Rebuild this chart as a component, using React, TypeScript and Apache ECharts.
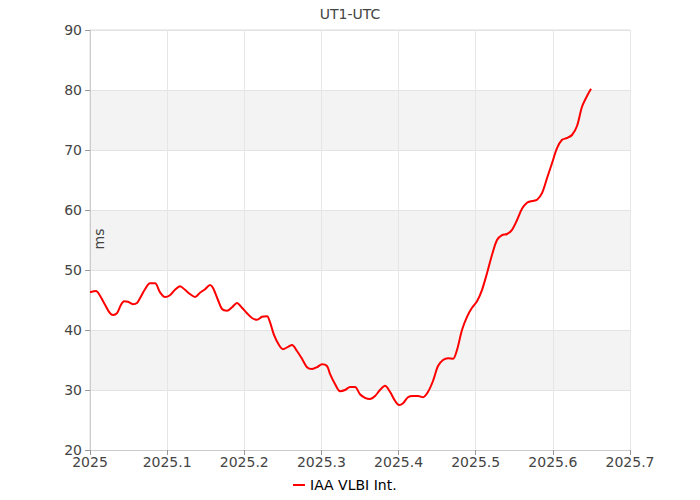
import React, { useEffect, useRef } from "react";
import * as echarts from "echarts";

const years: number[] = [
  2025.0, 2025.0078, 2025.013, 2025.0195, 2025.0259, 2025.0298, 2025.035, 2025.0402, 2025.0441, 2025.0493,
  2025.0557, 2025.0609, 2025.0648, 2025.0713, 2025.0778, 2025.0843, 2025.0907, 2025.0972, 2025.1037, 2025.1102,
  2025.1167, 2025.1232, 2025.1296, 2025.1361, 2025.1426, 2025.1491, 2025.1556, 2025.1595, 2025.1659, 2025.1711,
  2025.1776, 2025.1841, 2025.1906, 2025.197, 2025.2035, 2025.21, 2025.2165, 2025.223, 2025.2295, 2025.2333,
  2025.2385, 2025.245, 2025.2502, 2025.2567, 2025.2619, 2025.2683, 2025.2748, 2025.2813, 2025.2878, 2025.2943,
  2025.3008, 2025.3072, 2025.3111, 2025.3176, 2025.3241, 2025.3306, 2025.3371, 2025.3435, 2025.35, 2025.3565,
  2025.363, 2025.3695, 2025.3759, 2025.3824, 2025.3889, 2025.3954, 2025.4006, 2025.4058, 2025.4122, 2025.4187,
  2025.4252, 2025.4317, 2025.4382, 2025.4446, 2025.4511, 2025.4576, 2025.4641, 2025.4706, 2025.4758, 2025.4822,
  2025.4887, 2025.4952, 2025.5017, 2025.5082, 2025.5147, 2025.5211, 2025.5276, 2025.5341, 2025.5406, 2025.5471,
  2025.5535, 2025.56, 2025.5665, 2025.573, 2025.5795, 2025.5859, 2025.5924, 2025.5989, 2025.6054, 2025.6119,
  2025.6184, 2025.6248, 2025.6313, 2025.6378, 2025.6443, 2025.6495,
];

const ut1utc: number[] = [
  46.3, 46.5, 45.7, 44.2, 42.8, 42.5, 42.8, 44.2, 44.8, 44.7,
  44.3, 44.5, 45.3, 46.8, 47.8, 47.8, 46.3, 45.5, 45.8, 46.7,
  47.3, 46.7, 46.0, 45.5, 46.2, 46.8, 47.5, 47.0, 45.0, 43.5,
  43.2, 43.8, 44.5, 43.7, 42.8, 42.0, 41.7, 42.2, 42.3, 41.3,
  39.2, 37.5, 36.8, 37.2, 37.5, 36.5, 35.2, 33.8, 33.5, 33.8,
  34.3, 34.0, 32.7, 31.0, 29.8, 30.0, 30.5, 30.5, 29.3, 28.7,
  28.5, 29.0, 30.0, 30.7, 29.7, 28.2, 27.5, 27.8, 28.8, 29.0,
  29.0, 28.8, 29.7, 31.5, 34.0, 35.0, 35.3, 35.2, 36.7, 40.0,
  42.2, 43.7, 44.8, 46.7, 49.5, 52.5, 55.0, 55.8, 56.0, 56.7,
  58.3, 60.2, 61.2, 61.5, 61.7, 62.8, 65.3, 67.8, 70.3, 71.7,
  72.0, 72.5, 74.0, 77.2, 79.0, 80.2,
];

const seriesName = "IAA VLBI Int.";
const titleText = "UT1-UTC";
const yAxisName = "ms";

const FONT = "DejaVu Sans";

export default function App() {
  const ref = useRef<HTMLDivElement>(null);
  useEffect(() => {
    if (!ref.current) return;
    const chart = echarts.init(ref.current, null, { renderer: "svg" });
    chart.setOption({
      animation: false,
      backgroundColor: "#fff",
      textStyle: { fontFamily: FONT },
      title: {
        text: titleText,
        left: "center",
        top: 2,
        textStyle: { fontFamily: FONT, fontSize: 14, fontWeight: "normal", color: "#444" },
      },
      legend: {
        bottom: 3,
        left: 288,
        icon: "rect",
        itemWidth: 12,
        itemHeight: 2,
        itemGap: 8,
        textStyle: { fontFamily: FONT, fontSize: 14, color: "#000" },
        data: [seriesName],
      },
      grid: {
        left: 90,
        right: 70,
        top: 30,
        bottom: 50,
        show: true,
        borderColor: "#dddddd",
        borderWidth: 1,
      },
      xAxis: {
        type: "value",
        min: 2025,
        max: 2025.7,
        interval: 0.1,
        axisLine: { show: true, lineStyle: { color: "#cccccc" } },
        axisTick: { show: true, length: 5, lineStyle: { color: "#999" } },
        axisLabel: {
          fontFamily: FONT,
          fontSize: 14,
          color: "#444",
          margin: 5,
          formatter: (v: number) => String(Math.round(v * 10) / 10),
        },
        splitLine: { show: true, lineStyle: { color: "#e6e6e6" } },
      },
      yAxis: {
        type: "value",
        min: 20,
        max: 90,
        interval: 10,
        axisLine: { show: true, lineStyle: { color: "#cccccc" } },
        axisTick: { show: true, length: 5, lineStyle: { color: "#999" } },
        axisLabel: { fontFamily: FONT, fontSize: 14, color: "#444", margin: 8 },
        splitLine: { show: true, lineStyle: { color: "#e3e3e3" } },
        splitArea: { show: true, areaStyle: { color: ["#ffffff", "#f3f3f3"] } },
      },
      graphic: [
        {
          type: "text",
          x: 99,
          y: 239,
          rotation: Math.PI / 2,
          z: 100,
          style: {
            text: yAxisName,
            fontFamily: FONT,
            fontSize: 14,
            fill: "#444",
            align: "center",
            verticalAlign: "middle",
          },
        },
      ],
      series: [
        {
          name: seriesName,
          type: "line",
          data: years.map((t, i) => [t, ut1utc[i]]),
          showSymbol: false,
          smooth: 0.3,
          lineStyle: { color: "#ff0000", width: 2 },
          itemStyle: { color: "#ff0000" },
        },
      ],
    });
    return () => chart.dispose();
  }, []);
  return (
    <div
      ref={ref}
      style={{ position: "absolute", left: 0, top: 0, width: 700, height: 500 }}
    />
  );
}
